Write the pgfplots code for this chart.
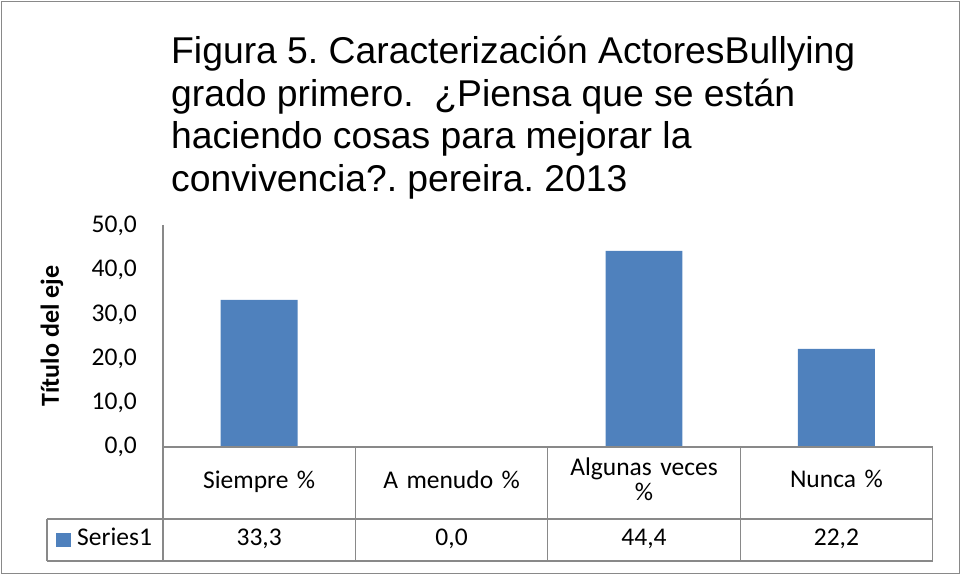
\documentclass[border=0pt]{standalone}
\usepackage{fontspec}
\setmainfont{Carlito}
\newfontfamily\titlefont{Liberation Sans}
\usepackage{pgfplots}
\pgfplotsset{compat=1.18}
\definecolor{barblue}{HTML}{4F81BD}
\definecolor{linegray}{HTML}{898989}
\frenchspacing
\begin{document}
\begin{tikzpicture}
\path (0pt,0pt) rectangle (961pt,575pt);
\draw[linegray, line width=1.6pt] (1.5pt,1.5pt) rectangle (959.5pt,573.5pt);
% title
\begin{scope}[every node/.style={anchor=base west, inner sep=0pt, font=\titlefont\fontsize{37.3}{42}\selectfont}]
\node at (171pt,511pt) {Figura 5. Caracterización ActoresBullying};
\node at (171pt,468pt) {grado primero.\ \ ¿Piensa que se están};
\node at (171pt,426pt) {haciendo cosas para mejorar la};
\node at (171pt,383pt) {convivencia?. pereira. 2013};
\end{scope}
\begin{axis}[
  at={(163pt,128pt)}, anchor=south west,
  scale only axis, width=769.6pt, height=221pt,
  xmin=-0.5, xmax=3.5, ymin=0, ymax=50,
  axis line style={draw=none},
  tick style={draw=none},
  ytick={0,10,20,30,40,50},
  yticklabel style={font=\fontsize{25.5}{30}\selectfont, inner sep=0pt, anchor=east, xshift=-26pt,
    /pgf/number format/.cd, fixed, fixed zerofill, precision=1, use comma, assume math mode=true},
  xtick={0,1,2,3},
  xticklabels={Siempre \%\strut, A menudo \%\strut, Algunas veces\strut\\\%\strut, Nunca \%\strut},
  xticklabel style={font=\fontsize{25.5}{25}\selectfont, text width=180pt, align=center, anchor=center, inner sep=0pt, yshift=-36pt},
  clip=false,
]
\addplot[ybar, bar width=0.4, fill=barblue, draw=none] coordinates {(0,33.3) (1,0) (2,44.4) (3,22.2)};
\end{axis}
% table lines
\begin{scope}[linegray, line width=1.3pt]
\draw (163pt,350pt) -- (163pt,14pt);
\draw (163pt,128pt) -- (932.6pt,128pt);
\draw (47pt,56pt) -- (932.6pt,56pt);
\draw (47pt,14pt) -- (932.6pt,14pt);
\draw (47pt,56pt) -- (47pt,14pt);
\foreach \xx in {355.4,547.8,740.2,932.6} \draw (\xx pt,128pt) -- (\xx pt,14pt);
\end{scope}
% y label
\node[rotate=90, font=\bfseries\fontsize{26}{30}\selectfont] at (52pt,239pt) {Título del eje};
% values row
\fill[barblue] (56pt,28pt) rectangle (71pt,42pt);
\node[anchor=west, inner sep=0pt, font=\fontsize{25.5}{30}\selectfont] at (77pt,35pt) {Series1\strut};
\begin{scope}[every node/.style={font=\fontsize{25.5}{30}\selectfont}]
\node at (259.2pt,35pt) {33,3\strut};
\node at (451.6pt,35pt) {0,0\strut};
\node at (644pt,35pt) {44,4\strut};
\node at (836.4pt,35pt) {22,2\strut};
\end{scope}
\end{tikzpicture}
\end{document}
